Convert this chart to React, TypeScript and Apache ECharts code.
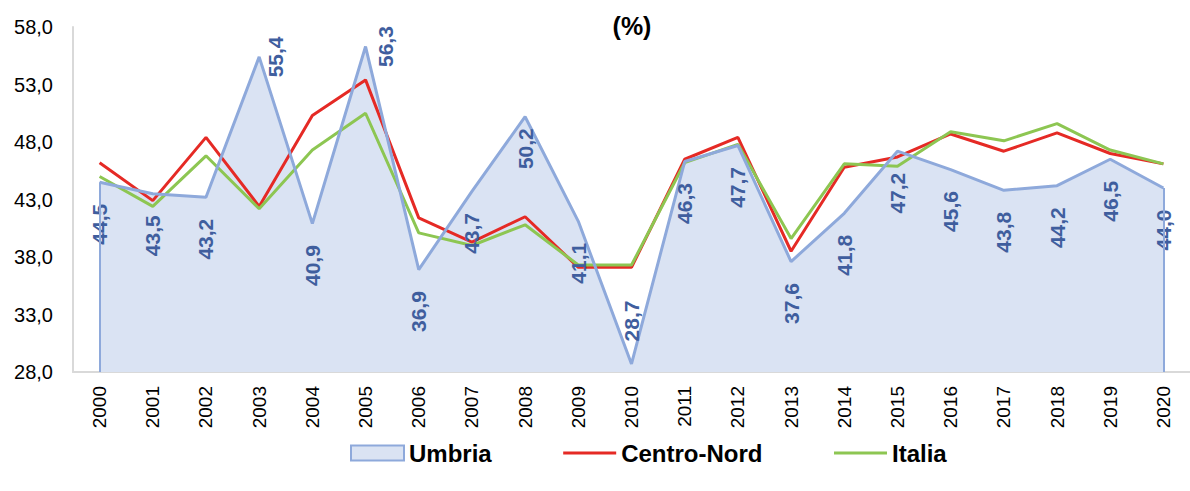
import React, { useEffect, useRef } from "react";
import * as echarts from "echarts";

const years = ["2000","2001","2002","2003","2004","2005","2006","2007","2008","2009","2010","2011","2012","2013","2014","2015","2016","2017","2018","2019","2020"];
const umbria = [44.5,43.5,43.2,55.4,40.9,56.3,36.9,43.7,50.2,41.1,28.7,46.3,47.7,37.6,41.8,47.2,45.6,43.8,44.2,46.5,44.0];
const centroNord = [46.2,42.9,48.4,42.4,50.3,53.4,41.4,39.3,41.5,37.1,37.1,46.5,48.4,38.5,45.8,46.7,48.7,47.2,48.8,47.0,46.1];
const italia = [45.0,42.4,46.8,42.2,47.3,50.5,40.1,39.0,40.8,37.3,37.3,46.2,47.8,39.6,46.1,45.9,48.9,48.1,49.6,47.3,46.1];
const seriesNames = ["Umbria", "Centro-Nord", "Italia"];
const yMin = 28;
const yMax = 58;
const yStep = 5;
const titleText = "(%)";

const FONT = "'Liberation Sans', Arial, sans-serif";
const BLUE_LINE = "#8EA9DB";
const BLUE_FILL = "#DAE3F3";
const RED = "#E52A25";
const GREEN = "#8DC652";
const LABEL_BLUE = "#3F5E9E";

const fmt = (v: number) => v.toFixed(1).replace(".", ",");

const labelOverrides: Record<number, any> = {
  3: { position: "right", distance: 16, align: "center", verticalAlign: "middle", offset: [0, 3] },
  5: { position: "right", distance: 19, align: "center", verticalAlign: "middle", offset: [0, 3] },
  8: { distance: 11 },
  10: { position: "top", distance: 22, align: "left", verticalAlign: "middle" },
};

export default function App() {
  const ref = useRef<HTMLDivElement>(null);
  useEffect(() => {
    if (!ref.current) return;
    const chart = echarts.init(ref.current, undefined, { renderer: "svg" });
    const umbriaData = umbria.map((v, i) =>
      labelOverrides[i] ? { value: v, label: labelOverrides[i] } : v
    );
    chart.setOption({
      animation: false,
      backgroundColor: "#ffffff",
      textStyle: { fontFamily: FONT },
      grid: { left: 73, right: -7, top: 27, bottom: 119, containLabel: false },
      graphic: [
        {
          type: "text",
          x: 632,
          y: 26,
          style: {
            text: titleText,
            fontFamily: FONT,
            fontSize: 25,
            fontWeight: "bold",
            fill: "#000",
            align: "center",
            verticalAlign: "middle",
          },
        },
      ],
      legend: {
        left: 350,
        top: 441,
        padding: 0,
        itemWidth: 53,
        itemHeight: 15,
        itemGap: 70,
        selectedMode: false,
        textStyle: { fontFamily: FONT, fontSize: 24, fontWeight: "bold", color: "#000" },
        data: [
          { name: seriesNames[0], icon: "rect", itemStyle: { color: BLUE_FILL, borderColor: BLUE_LINE, borderWidth: 2 } },
          { name: seriesNames[1], itemStyle: { opacity: 0 }, lineStyle: { width: 3, color: RED } },
          { name: seriesNames[2], itemStyle: { opacity: 0 }, lineStyle: { width: 3, color: GREEN } },
        ],
      },
      xAxis: {
        type: "category",
        data: years,
        boundaryGap: true,
        axisLine: { show: true, lineStyle: { color: "#D9D9D9", width: 2 } },
        axisTick: { show: false },
        axisLabel: { rotate: 90, margin: 14, fontSize: 19, color: "#000", fontFamily: FONT, interval: 0 },
        splitLine: { show: false },
      },
      yAxis: {
        type: "value",
        min: yMin,
        max: yMax,
        interval: yStep,
        axisLine: { show: true, lineStyle: { color: "#D9D9D9", width: 2 } },
        axisTick: { show: false },
        splitLine: { show: false },
        axisLabel: { margin: 20, fontSize: 20, color: "#000", fontFamily: FONT, formatter: (v: number) => fmt(v) },
      },
      series: [
        {
          name: seriesNames[0],
          type: "line",
          data: umbria,
          symbol: "none",
          silent: true,
          lineStyle: { width: 0, color: BLUE_LINE },
          itemStyle: { color: BLUE_FILL },
          areaStyle: { color: BLUE_FILL, opacity: 1, origin: "start" },
          z: 1,
        },
        {
          name: seriesNames[1],
          type: "line",
          data: centroNord,
          symbol: "none",
          silent: true,
          lineStyle: { width: 3, color: RED },
          itemStyle: { color: RED },
          z: 2,
        },
        {
          name: seriesNames[2],
          type: "line",
          data: italia,
          symbol: "none",
          silent: true,
          lineStyle: { width: 3, color: GREEN },
          itemStyle: { color: GREEN },
          z: 3,
        },
        {
          name: seriesNames[0],
          type: "line",
          data: umbriaData,
          symbol: "circle",
          symbolSize: 1,
          showSymbol: true,
          silent: true,
          lineStyle: { width: 3, color: BLUE_LINE },
          itemStyle: { color: "rgba(0,0,0,0)" },
          z: 4,
          label: {
            show: true,
            position: "bottom",
            distance: 21,
            rotate: 90,
            align: "right",
            verticalAlign: "middle",
            fontFamily: FONT,
            fontSize: 21,
            fontWeight: "bold",
            color: LABEL_BLUE,
            formatter: (p: any) => fmt(p.value as number),
          },
          labelLayout: { hideOverlap: false },
          markLine: {
            silent: true,
            symbol: "none",
            label: { show: false },
            lineStyle: { color: BLUE_LINE, width: 2, type: "solid" },
            data: [
              [{ coord: [years[0], yMin] }, { coord: [years[0], umbria[0]] }],
              [{ coord: [years[years.length - 1], yMin] }, { coord: [years[years.length - 1], umbria[umbria.length - 1]] }],
            ],
          },
        },
      ],
    });
    return () => chart.dispose();
  }, []);
  return (
    <div
      ref={ref}
      style={{ position: "fixed", left: 0, top: 0, width: 1190, height: 491, background: "#fff" }}
    />
  );
}
